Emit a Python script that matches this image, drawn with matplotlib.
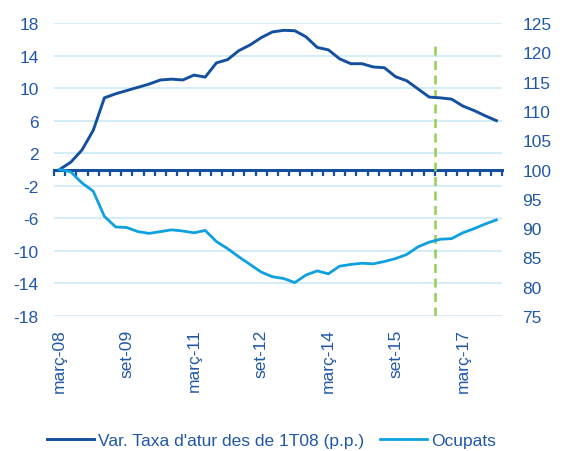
import matplotlib
matplotlib.use("Agg")
import matplotlib.pyplot as plt
import numpy as np

plt.rcParams['font.family'] = ['Liberation Sans', 'DejaVu Sans']
plt.rcParams['axes.unicode_minus'] = False

# quarterly, 1T08 .. 4T17
atur = [0.0, 0.9, 2.4, 4.8, 8.8, 9.3, 9.7, 10.1, 10.5, 11.0,
        11.1, 11.0, 11.6, 11.35, 13.1, 13.5, 14.6, 15.3, 16.2, 16.9,
        17.1, 17.05, 16.3, 15.0, 14.7, 13.6, 13.0, 13.0, 12.6, 12.5,
        11.4, 10.9, 9.9, 8.9, 8.8, 8.65, 7.8, 7.25, 6.6, 6.0]
ocupats = [100.0, 99.6, 97.7, 96.3, 92.0, 90.2, 90.1, 89.4, 89.1, 89.4,
           89.7, 89.5, 89.2, 89.6, 87.7, 86.5, 85.1, 83.8, 82.5, 81.7,
           81.4, 80.7, 82.0, 82.7, 82.2, 83.5, 83.8, 84.0, 83.9, 84.3,
           84.8, 85.5, 86.8, 87.6, 88.1, 88.2, 89.2, 89.9, 90.7, 91.4]
tick_pos = [0, 6, 12, 18, 24, 30, 36]
tick_labels = ['març-08', 'set-09', 'març-11', 'set-12', 'març-14', 'set-15', 'març-17']
left_ticks = [18, 14, 10, 6, 2, -2, -6, -10, -14, -18]
right_ticks = [125, 120, 115, 110, 105, 100, 95, 90, 85, 80, 75]
marker_x = 33.5

dark = '#14509E'
light = '#0FA0E0'
txt = '#2157A8'
grid = '#CDEAF7'
fs = 12.5

x = np.arange(len(atur))

fig = plt.figure(figsize=(5.71, 4.52), dpi=100)
ax = fig.add_axes([54/571, 1-317/452, 448/571, 293/452])
ax2 = ax.twinx()

ax.set_xlim(-0.5, len(atur)-0.5)
ax.set_ylim(-18, 18)
ax2.set_ylim(75, 125)
ax.set_yticks(left_ticks)
ax2.set_yticks(right_ticks)
ax.grid(axis='y', color=grid, linewidth=1.2)
ax.set_axisbelow(True)

for a in (ax, ax2):
    for s in a.spines.values():
        s.set_visible(False)
    a.tick_params(axis='y', length=0, labelsize=fs, labelcolor=txt)
ax.tick_params(axis='y', pad=11)
ax2.tick_params(axis='y', pad=14.5)

# horizontal axis drawn at zero with quarter ticks
ax.spines['bottom'].set_visible(True)
ax.spines['bottom'].set_position(('data', 0))
ax.spines['bottom'].set_color(dark)
ax.spines['bottom'].set_linewidth(2.2)
ax.set_xticks(np.arange(-0.5, len(atur), 1.0))
ax.tick_params(axis='x', direction='out', length=4, width=1.6, color=dark, labelbottom=False)

sec = ax.secondary_xaxis('bottom')
sec.set_xticks(tick_pos)
sec.set_xticklabels(tick_labels, rotation=90, va='top', ha='center')
sec.tick_params(length=0, pad=9, labelsize=fs, labelcolor=txt)
for s in sec.spines.values():
    s.set_visible(False)

ax.axvline(marker_x, ymin=0, ymax=(317-45)/293, color='#92D050', linewidth=1.8,
           linestyle=(0, (3.6, 2.2)), zorder=4)

l1, = ax.plot(x, atur, color=dark, linewidth=2.1, zorder=5,
              label="Var. Taxa d'atur des de 1T08 (p.p.)")
l2, = ax2.plot(x, ocupats, color=light, linewidth=2.0, zorder=5, label='Ocupats')

fig.legend(handles=[l1, l2], loc='lower center', bbox_to_anchor=(0.476, -0.027), ncol=2,
           frameon=False, fontsize=fs, labelcolor=txt, handlelength=2.7,
           handletextpad=0.25, columnspacing=0.9)

fig.savefig('out.png', dpi=100)
